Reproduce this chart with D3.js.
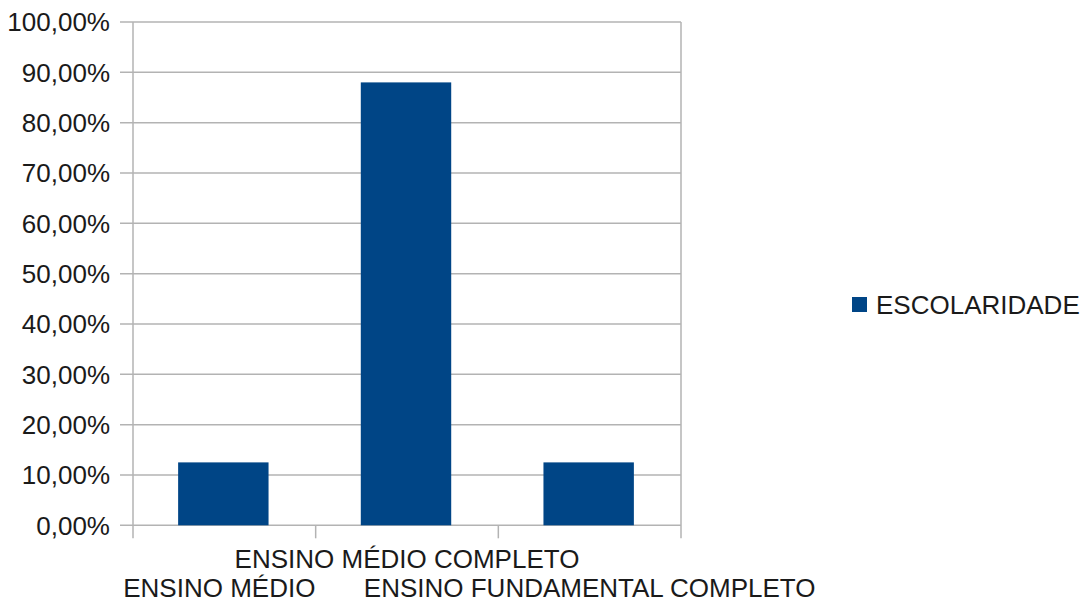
<!DOCTYPE html>
<html><head><meta charset="utf-8">
<script src="https://cdn.jsdelivr.net/npm/d3@7"></script>
<style>
html,body{margin:0;padding:0;background:#fff;}
svg{display:block;font-family:"Liberation Sans",Arial,sans-serif;}
</style></head>
<body>
<svg id="chart" width="1091" height="603"></svg>
<script>
const categories = ["ENSINO MÉDIO", "ENSINO MÉDIO COMPLETO", "ENSINO FUNDAMENTAL COMPLETO"];
const values = [12.5, 88, 12.5];
const yTicks = [0,10,20,30,40,50,60,70,80,90,100];
const seriesName = "ESCOLARIDADE";

(function () {
const svg = d3.select("#chart");
const pLeft = 133, pRight = 681, pTop = 22, pBottom = 525.3;
const fontSize = 26;
const textColor = "#1a1a1a";
const gridColor = "#b3b3b3";
const barColor = "#004586";

const x = d3.scaleBand().domain(categories).range([pLeft, pRight]).paddingInner(0).paddingOuter(0);
const y = d3.scaleLinear().domain([0, 100]).range([pBottom, pTop]);

// gridlines
svg.append("g").selectAll("line").data(yTicks).join("line")
  .attr("x1", pLeft - 13).attr("x2", pRight)
  .attr("y1", d => y(d)).attr("y2", d => y(d))
  .attr("stroke", gridColor).attr("stroke-width", 1.5);

// y tick labels
svg.append("g").selectAll("text").data(yTicks).join("text")
  .attr("x", 110).attr("y", d => y(d)).attr("dy", "0.36em")
  .attr("text-anchor", "end").attr("font-size", fontSize).attr("fill", textColor)
  .text(d => d3.format(".2f")(d).replace(".", ",") + "%");

// left axis line
svg.append("line").attr("x1", pLeft).attr("x2", pLeft).attr("y1", pTop).attr("y2", pBottom + 13)
  .attr("stroke", gridColor).attr("stroke-width", 1.5);

// category ticks (band boundaries)
const bounds = categories.map(c => x(c)).concat([pRight]);
svg.append("g").selectAll("line").data(bounds.slice(1)).join("line")
  .attr("x1", d => d).attr("x2", d => d)
  .attr("y1", d => d === pRight ? pTop : pBottom).attr("y2", pBottom + 13)
  .attr("stroke", gridColor).attr("stroke-width", 1.5);

// bars
const barW = x.bandwidth() * 0.495;
svg.append("g").selectAll("rect").data(values).join("rect")
  .attr("x", (d, i) => x(categories[i]) + x.bandwidth() / 2 - barW / 2 - 1)
  .attr("width", barW)
  .attr("y", d => y(d)).attr("height", d => y(0) - y(d))
  .attr("fill", barColor);

// x labels (staggered)
svg.append("g").selectAll("text").data(categories).join("text")
  .attr("x", (d, i) => x(d) + x.bandwidth() / 2 + (i === 0 ? -5 : 0))
  .attr("y", (d, i) => i % 2 === 0 ? 597 : 568)
  .attr("text-anchor", "middle").attr("font-size", fontSize).attr("fill", textColor)
  .text(d => d);

// legend
svg.append("rect").attr("x", 852).attr("y", 297).attr("width", 15).attr("height", 15).attr("fill", barColor);
svg.append("text").attr("x", 876).attr("y", 305).attr("dy", "0.36em")
  .attr("font-size", fontSize).attr("fill", textColor).text(seriesName);
})();
</script>
</body></html>
